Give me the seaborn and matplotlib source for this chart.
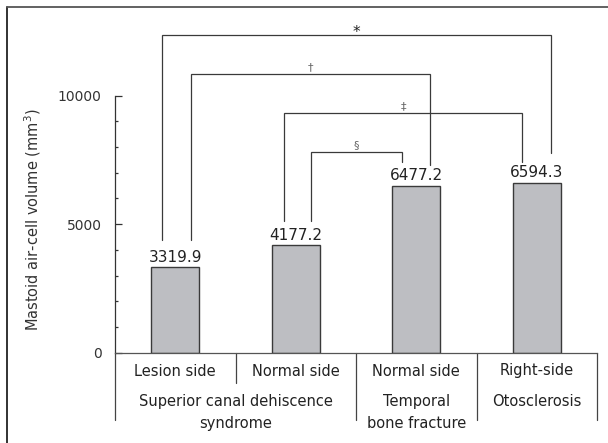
import matplotlib
matplotlib.use("Agg")
import matplotlib.pyplot as plt
import matplotlib.transforms as mtransforms
from matplotlib.lines import Line2D
import seaborn as sns
import pandas as pd

# ---- data ----
categories = ["Lesion side", "Normal side", "Normal side", "Right-side"]
values = [3319.9, 4177.2, 6477.2, 6594.3]
value_labels = ["3319.9", "4177.2", "6477.2", "6594.3"]
group_labels = ["Superior canal dehiscence\nsyndrome", "Temporal\nbone fracture", "Otosclerosis"]
group_centers = [0.5, 2.0, 3.0]
y_ticks = [0, 5000, 10000]
y_label = "Mastoid air-cell volume (mm$^3$)"

# significance brackets
bracket_symbols = ["*", "\u2020", "\u2021", "\u00a7"]
bracket_left_x = [-0.11, 0.13, 0.90, 1.13]
bracket_right_x = [3.12, 2.11, 2.88, 1.88]
bracket_top = [12360, 10840, 9330, 7810]
bracket_left_end = [4390, 4390, 5120, 5140]
bracket_right_end = [7770, 7300, 7430, 7410]

sns.set_theme(style="ticks")
plt.rcParams["font.family"] = ["DejaVu Sans"]

fig = plt.figure(figsize=(6.08, 4.43), dpi=100)
ax = fig.add_axes([115 / 608, 1 - 352.7 / 443, (597 - 115) / 608, (352.7 - 95.7) / 443])

df = pd.DataFrame({"pos": [0, 1, 2, 3], "value": values})
sns.barplot(data=df, x="pos", y="value", ax=ax, width=0.4, color="#bdbec2",
            edgecolor="#3a3a3a", linewidth=1.0, saturation=1)

ax.set_xlim(-0.5, 3.5)
ax.set_ylim(0, 10000)
ax.set_yticks(y_ticks)
ax.set_yticklabels([str(t) for t in y_ticks], fontsize=10, color="#333333")
ax.set_yticks(range(0, 10001, 1000), minor=True)
ax.tick_params(axis="y", which="major", direction="in", length=5.2, width=0.9,
               color="#333333", pad=9.5)
ax.tick_params(axis="y", which="minor", direction="in", length=1.8, width=0.9,
               color="#333333")
ax.set_xticks([])
ax.set_xlabel("")
ax.set_ylabel("")
for s in ["top", "right"]:
    ax.spines[s].set_visible(False)
ax.spines["left"].set_color("#333333")
ax.spines["left"].set_linewidth(0.9)
ax.spines["bottom"].set_color("#555555")
ax.spines["bottom"].set_linewidth(0.9)

# value labels
for i, (v, lab) in enumerate(zip(values, value_labels)):
    ax.annotate(lab, (i, v), xytext=(0, 2), textcoords="offset points",
                ha="center", va="bottom", fontsize=11, color="#222222")

# category separators below axis
trans = mtransforms.blended_transform_factory(ax.transData, ax.transAxes)
sep_bottom = (352.7 - 420) / 257
for xs, yb in [(-0.5, sep_bottom), (0.5, (352.7 - 383) / 257), (1.5, sep_bottom),
               (2.5, sep_bottom), (3.5, sep_bottom)]:
    ax.add_line(Line2D([xs, xs], [0, yb], transform=trans, color="#444444",
                       lw=0.9, clip_on=False))

# category labels
row1 = (352.7 - 371) / 257
row2 = (352.7 - 394) / 257
for i, c in enumerate(categories):
    ax.text(i, row1, c, transform=trans, ha="center", va="center",
            fontsize=10.5, color="#222222")
for gc, gl in zip(group_centers, group_labels):
    ax.text(gc, row2, gl, transform=trans, ha="center", va="top",
            fontsize=10.5, color="#222222", linespacing=1.55)

# brackets
for sym, xl, xr, yt, yl, yr in zip(bracket_symbols, bracket_left_x, bracket_right_x,
                                    bracket_top, bracket_left_end, bracket_right_end):
    ax.plot([xl, xl, xr, xr], [yl, yt, yt, yr], color="#3a3a3a", lw=0.9,
            clip_on=False, solid_joinstyle="miter")
    if sym == "*":
        ax.text((xl + xr) / 2, yt - 60, sym, ha="center", va="baseline",
                fontsize=11, color="#222222")
    else:
        ax.text((xl + xr) / 2, yt + 80, sym, ha="center", va="bottom",
                fontsize=8, color="#666666")

# y label
fig.text(33 / 608, 1 - 220 / 443, y_label, rotation=90, ha="center", va="center",
         fontsize=10.5, color="#333333")

# frame (left and top)
fig.add_artist(Line2D([7 / 608, 7 / 608], [0, 1 - 6.5 / 443], transform=fig.transFigure,
                      color="#222222", lw=1.3))
fig.add_artist(Line2D([7 / 608, 1], [1 - 6.5 / 443, 1 - 6.5 / 443], transform=fig.transFigure,
                      color="#555555", lw=1.3))

fig.savefig("out.png", dpi=100)
